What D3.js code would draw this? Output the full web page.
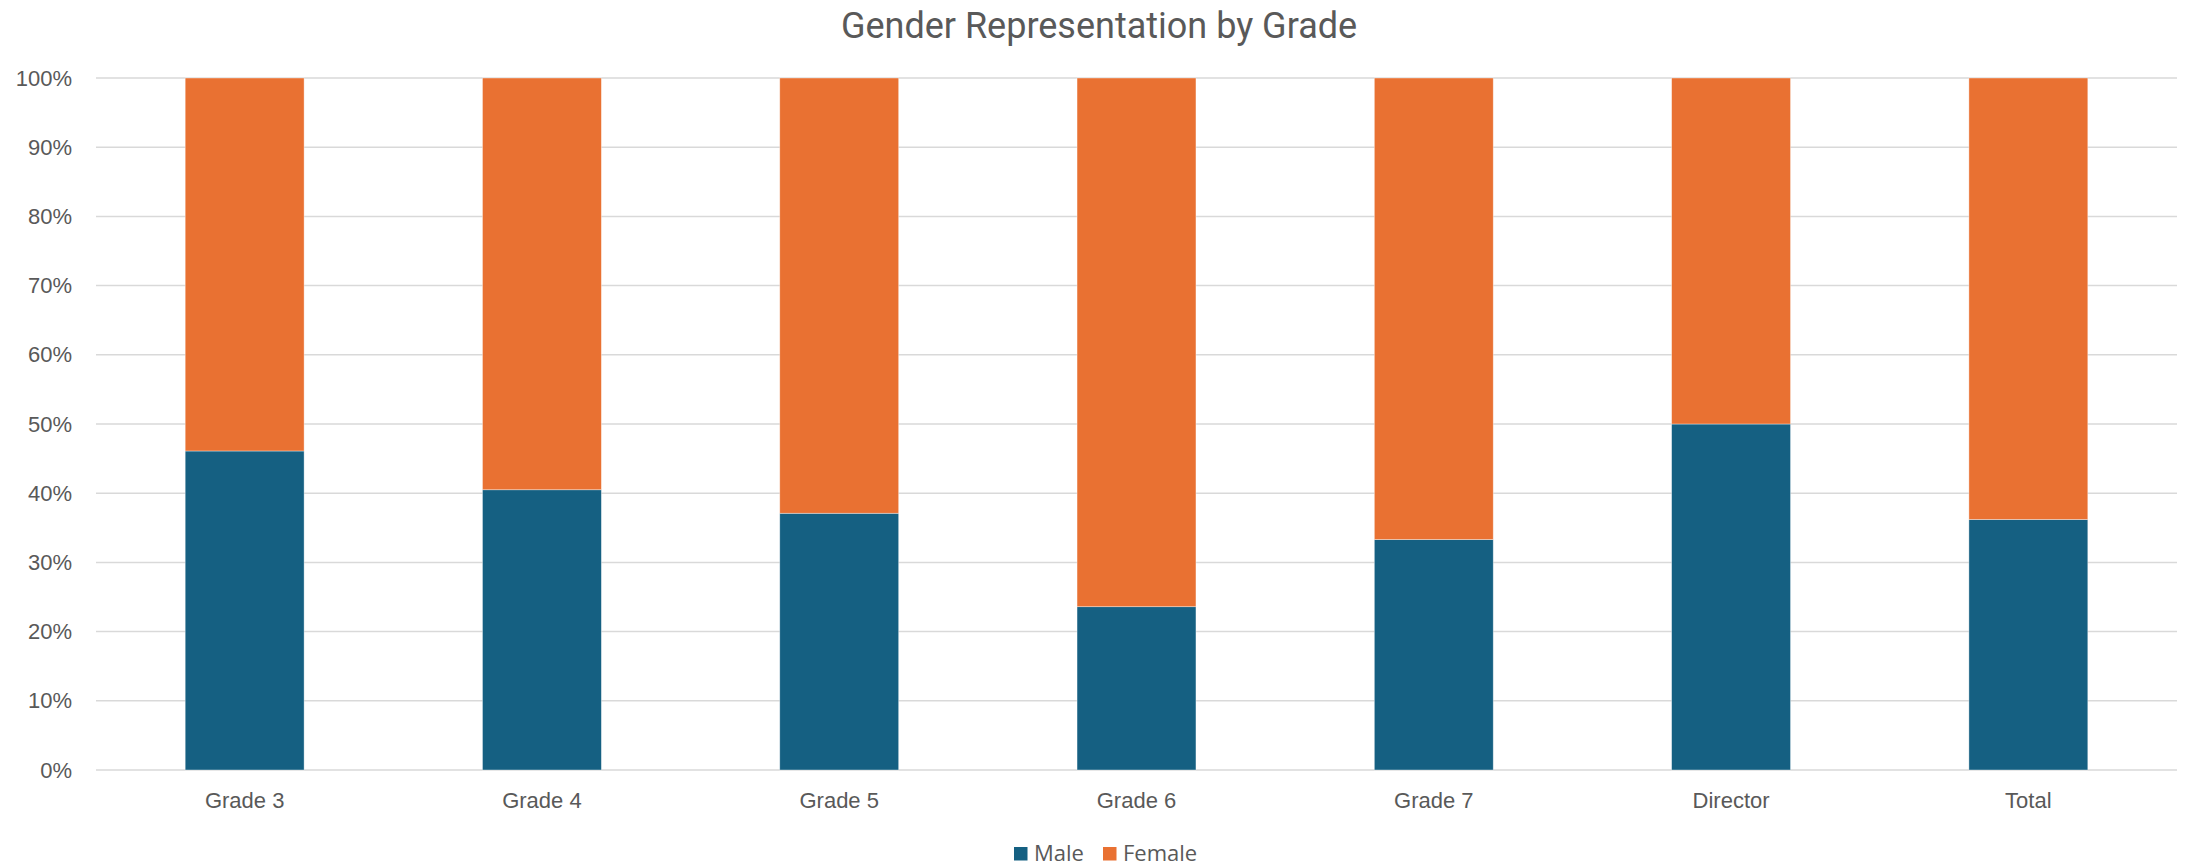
<!DOCTYPE html>
<html>
<head>
<meta charset="utf-8">
<script src="https://cdn.jsdelivr.net/npm/d3@7"></script>
<style>
  body { margin: 0; background: #fff; }
  svg { display: block; font-family: "Open Sans", "Noto Sans", sans-serif; }
</style>
</head>
<body>
<svg id="chart"></svg>
<script>
const categories = ['Grade 3', 'Grade 4', 'Grade 5', 'Grade 6', 'Grade 7', 'Director', 'Total'];
const male = [0.461, 0.405, 0.371, 0.236, 0.333, 0.50, 0.362];
const female = [0.539, 0.595, 0.629, 0.764, 0.667, 0.50, 0.638];
const yTicks = [0, 0.1, 0.2, 0.3, 0.4, 0.5, 0.6, 0.7, 0.8, 0.9, 1];
const seriesNames = ['Male', 'Female'];
const colors = ['#156082', '#E97132'];

const width = 2188;
const height = 866;
const margin = { top: 78, right: 11, bottom: 96, left: 96 };

const svg = d3.select('#chart').attr('width', width).attr('height', height);

const x = d3.scaleBand()
  .domain(categories)
  .range([margin.left, width - margin.right])
  .padding(0);

const y = d3.scaleLinear()
  .domain([0, 1])
  .range([height - margin.bottom, margin.top]);

const barW = x.bandwidth() * 0.4;

// gridlines
svg.append('g')
  .selectAll('line')
  .data(yTicks)
  .join('line')
  .attr('x1', margin.left)
  .attr('x2', width - margin.right)
  .attr('y1', d => y(d))
  .attr('y2', d => y(d))
  .attr('stroke', '#D9D9D9')
  .attr('stroke-width', 1.5);

// stacked bars
const rows = categories.map((c, i) => ({ cat: c, Male: male[i], Female: female[i] }));
const stacked = d3.stack().keys(seriesNames)(rows);

svg.append('g')
  .selectAll('g')
  .data(stacked)
  .join('g')
  .attr('fill', (d, i) => colors[i])
  .selectAll('rect')
  .data(d => d)
  .join('rect')
  .attr('x', d => x(d.data.cat) + (x.bandwidth() - barW) / 2)
  .attr('y', d => y(d[1]))
  .attr('width', barW)
  .attr('height', d => y(d[0]) - y(d[1]))
  .attr('stroke', '#ffffff')
  .attr('stroke-opacity', 0.5)
  .attr('stroke-width', 0.75);

// y axis
svg.append('g')
  .attr('transform', `translate(${margin.left},0)`)
  .call(d3.axisLeft(y).tickValues(yTicks).tickFormat(d3.format('.0%')).tickSize(0).tickPadding(24))
  .call(g => g.select('.domain').remove())
  .call(g => g.selectAll('text').attr('fill', '#595959').style('font-size', '22px'));

// x axis
svg.append('g')
  .attr('transform', `translate(0,${height - margin.bottom})`)
  .call(d3.axisBottom(x).tickSize(0).tickPadding(22))
  .call(g => g.select('.domain').remove())
  .call(g => g.selectAll('text').attr('fill', '#595959').style('font-size', '22px'));

// title
svg.append('text')
  .attr('x', 1099)
  .attr('y', 38)
  .attr('text-anchor', 'middle')
  .attr('fill', '#595959')
  .style('font-size', '36px')
  .style('font-family', 'Roboto, sans-serif')
  .text('Gender Representation by Grade');

// legend
const legendX = [1014, 1103];
const legend = svg.append('g')
  .selectAll('g')
  .data(seriesNames)
  .join('g')
  .attr('transform', (d, i) => `translate(${legendX[i]},847)`);

legend.append('rect')
  .attr('width', 13.5)
  .attr('height', 13.5)
  .attr('fill', (d, i) => colors[i]);

legend.append('text')
  .attr('x', 20)
  .attr('y', 13.5)
  .attr('fill', '#595959')
  .style('font-size', '22px')
  .text(d => d);
</script>
</body>
</html>
